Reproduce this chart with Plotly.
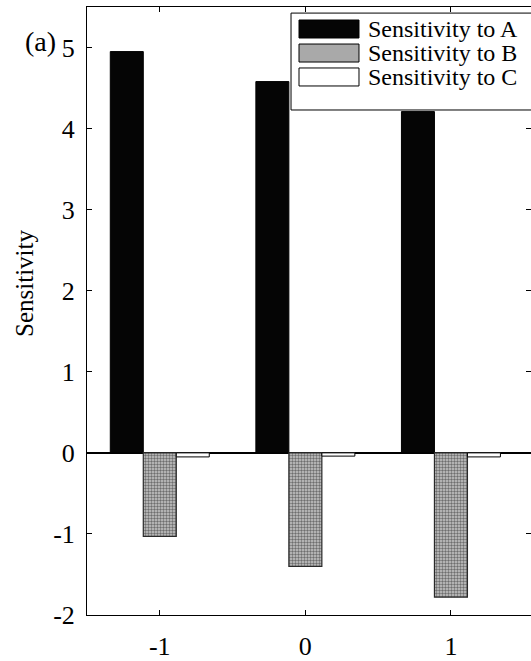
import plotly.graph_objects as go

# Parameter settings on the x axis
categories = [-1, 0, 1]

# Sensitivity of the output to each parameter
sens_a = [4.95, 4.58, 4.21]
sens_b = [-1.03, -1.40, -1.78]
sens_c = [-0.05, -0.04, -0.05]

series_names = ["Sensitivity to A", "Sensitivity to B", "Sensitivity to C"]
y_ticks = [-2, -1, 0, 1, 2, 3, 4, 5]

FONT = "Liberation Serif, Times New Roman, serif"


def hyphen_label(v):
    # plain hyphen for negatives, as in the printed figure
    return ("-" + str(abs(v))) if v < 0 else str(v)


fig = go.Figure()

fig.add_trace(go.Bar(
    x=categories, y=sens_a, name=series_names[0],
    marker=dict(color="#050505", line=dict(color="#000000", width=1)),
    showlegend=False,
))
fig.add_trace(go.Bar(
    x=categories, y=sens_b, name=series_names[1],
    marker=dict(
        color="#b8b8b8",
        pattern=dict(shape=".", fgcolor="#6e6e6e", bgcolor="#c9c9c9",
                     size=3, solidity=0.5, fillmode="replace"),
        line=dict(color="#2a2a2a", width=1.2),
    ),
    showlegend=False,
))
fig.add_trace(go.Bar(
    x=categories, y=sens_c, name=series_names[2],
    marker=dict(color="#ffffff", line=dict(color="#000000", width=1)),
    showlegend=False,
))

# Hand-drawn legend box with wide swatches
legend_box = dict(x0=0.4595, x1=1.05, y0=0.8306, y1=0.990)
swatches = [
    dict(fill="#050505", y0=0.949, y1=0.9786),
    dict(fill="#a9a9a9", y0=0.9095, y1=0.9391),
    dict(fill="#ffffff", y0=0.8701, y1=0.8997),
]
shapes = [dict(type="rect", xref="paper", yref="paper",
               x0=legend_box["x0"], x1=legend_box["x1"],
               y0=legend_box["y0"], y1=legend_box["y1"],
               fillcolor="white", line=dict(color="black", width=1),
               layer="above")]
annotations = []
for name, sw in zip(series_names, swatches):
    shapes.append(dict(type="rect", xref="paper", yref="paper",
                       x0=0.4775, x1=0.6126, y0=sw["y0"], y1=sw["y1"],
                       fillcolor=sw["fill"], line=dict(color="black", width=1),
                       layer="above"))
    annotations.append(dict(xref="paper", yref="paper",
                            x=0.6284, y=(sw["y0"] + sw["y1"]) / 2,
                            text=name, showarrow=False,
                            xanchor="left", yanchor="middle",
                            font=dict(family=FONT, size=24, color="black")))

# Panel label and y-axis title
annotations.append(dict(xref="paper", yref="paper", x=-0.105, y=0.943,
                        text="(a)", showarrow=False,
                        xanchor="center", yanchor="middle",
                        font=dict(family=FONT, size=28, color="black")))
annotations.append(dict(xref="paper", yref="paper", x=-0.142, y=0.546,
                        text="Sensitivity", showarrow=False, textangle=-90,
                        xanchor="center", yanchor="middle",
                        font=dict(family=FONT, size=25, color="black")))

fig.update_layout(
    width=531, height=661,
    margin=dict(l=87, r=0, t=7, b=46),
    paper_bgcolor="white", plot_bgcolor="white",
    barmode="group", bargap=0.32, bargroupgap=0.0,
    font=dict(family=FONT, size=26, color="black"),
    shapes=shapes, annotations=annotations,
    showlegend=False,
)
fig.update_xaxes(
    range=[-1.5, 1.55], tickvals=categories,
    ticktext=[hyphen_label(c) for c in categories],
    ticks="inside", ticklen=5, tickwidth=1, tickcolor="black",
    showline=True, linecolor="black", linewidth=1, mirror="ticks",
    showgrid=False, zeroline=False, ticklabelstandoff=8,
    tickfont=dict(family=FONT, size=26, color="black"),
)
fig.update_yaxes(
    range=[-2, 5.5], tickvals=y_ticks,
    ticktext=[hyphen_label(v) for v in y_ticks],
    ticks="inside", ticklen=5, tickwidth=1, tickcolor="black",
    showline=True, linecolor="black", linewidth=1, mirror="ticks",
    showgrid=False, zeroline=True, zerolinecolor="black", zerolinewidth=1.5,
    ticklabelstandoff=6,
    tickfont=dict(family=FONT, size=26, color="black"),
)

fig.write_html("out.html")
